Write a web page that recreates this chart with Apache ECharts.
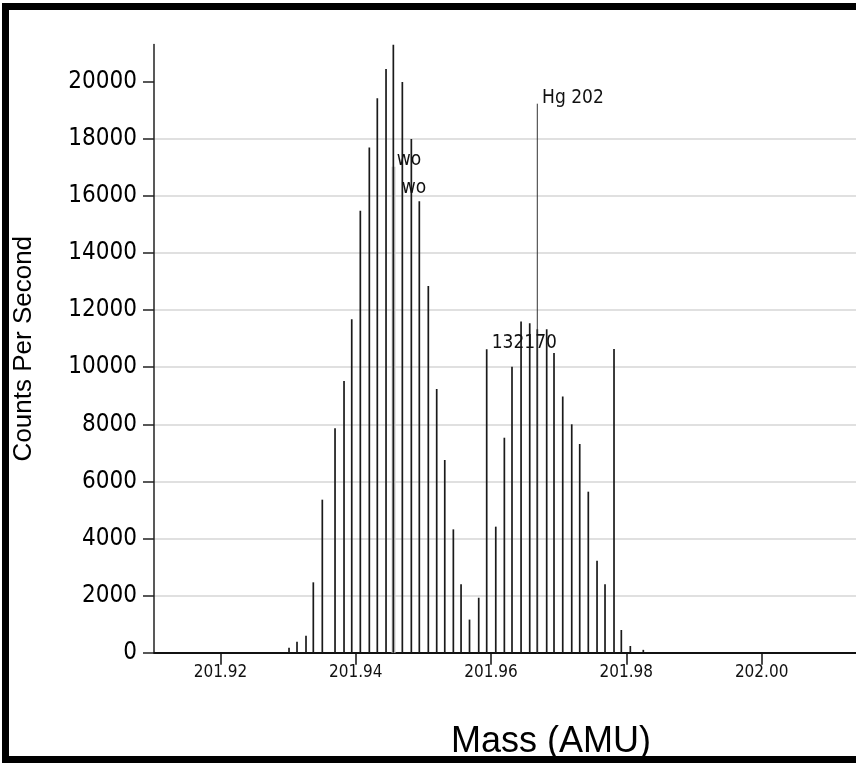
<!DOCTYPE html>
<html>
<head>
<meta charset="utf-8">
<script src="https://cdn.jsdelivr.net/npm/echarts@6/dist/echarts.min.js"></script>
<style>
  html, body { margin: 0; padding: 0; background: #fff; }
  #main { width: 856px; height: 765px; }
</style>
</head>
<body>
<div id="main"></div>
<script>
/* mass spectrum stick plot, 201.91 - 202.03 AMU (right part cut off by the frame) */

const stickMass = [
    201.93014, 201.93132, 201.93265, 201.93373, 201.93506, 201.93694, 201.93827, 201.93941,
    201.94068, 201.94201, 201.94319, 201.94448, 201.94556, 201.94689, 201.94822, 201.94940,
    201.95073, 201.95197, 201.95316, 201.95443, 201.95557, 201.95682, 201.95818, 201.95936,
    201.96070, 201.96197, 201.96310, 201.96444, 201.96572, 201.96684, 201.96823, 201.96931,
    201.97060, 201.97193, 201.97311, 201.97438, 201.97567, 201.97685, 201.97818, 201.97926,
    201.98059, 201.98251
];
const stickCounts = [
    175, 385, 595, 2465, 5360, 7860, 9515, 11680,
    15480, 17700, 19420, 20445, 21295, 19990, 17990, 15810,
    12845, 9235, 6750, 4320, 2395, 1160, 1925, 10625,
    4415, 7530, 10020, 11600, 11540, 11330, 11330, 10500,
    8970, 8000, 7310, 5640, 3225, 2400, 10640, 795,
    235, 100
];

// peak marker lines (grey reference stick, Hg 202 line)
const markerMass = [201.94559, 201.96684];
const markerCounts = [17020, 19230];

// annotations
const noteText = ['wo', 'wo', '132170', 'Hg 202'];
const noteMass = [201.94606, 201.94680, 201.96010, 201.96754];
const noteCounts = [17250, 16260, 10830, 19420];

const xTicks = [201.92, 201.94, 201.96, 201.98, 202.00];
const yTicks = [0, 2000, 4000, 6000, 8000, 10000, 12000, 14000, 16000, 18000, 20000];

const narrow = "'Liberation Sans Narrow', 'DejaVu Sans Condensed', 'Liberation Sans', sans-serif";

const chart = echarts.init(document.getElementById('main'));

function stickItem(color, width) {
    return function (params, api) {
        const top = api.coord([api.value(0), api.value(1)]);
        const base = api.coord([api.value(0), 0]);
        return {
            type: 'line',
            shape: { x1: top[0], y1: top[1], x2: base[0], y2: base[1] },
            style: { stroke: color, lineWidth: width }
        };
    };
}

chart.setOption({
    animation: false,
    backgroundColor: '#fff',
    grid: { left: 154, right: -92, top: 44.6, bottom: 112.3, outerBoundsMode: 'none', containLabel: false },
    graphic: [{
        type: 'rect',
        shape: { x: 5.5, y: 6.5, width: 880, height: 753 },
        style: { fill: null, stroke: '#000', lineWidth: 7 },
        z: 100
    }],
    xAxis: {
        type: 'value',
        min: 201.91018, max: 202.02755,
        name: 'Mass (AMU)',
        nameLocation: 'middle',
        nameGap: 71,
        nameTextStyle: { fontFamily: 'Liberation Sans', fontSize: 36, color: '#000' },
        axisLine: { show: true, onZero: false, lineStyle: { color: '#111', width: 2 } },
        axisTick: { show: true, length: 12, lineStyle: { color: '#111', width: 1.5 }, customValues: xTicks },
        axisLabel: {
            customValues: xTicks,
            formatter: v => v.toFixed(2),
            fontFamily: narrow, fontSize: 17, color: '#111', margin: 11
        },
        splitLine: { show: false }
    },
    yAxis: {
        type: 'value',
        min: 0, max: 21300, interval: 2000,
        name: 'Counts Per Second',
        nameLocation: 'middle',
        nameGap: 117,
        nameTextStyle: { fontFamily: 'Liberation Sans', fontSize: 26, color: '#000' },
        axisLine: { show: true, lineStyle: { color: '#222', width: 1.5 } },
        axisTick: { show: true, length: 11, lineStyle: { color: '#222', width: 1.5 }, customValues: yTicks },
        axisLabel: {
            customValues: yTicks,
            formatter: v => String(v),
            fontFamily: narrow, fontSize: 24, color: '#000', margin: 17
        },
        splitLine: { show: true, showMaxLine: false, lineStyle: { color: '#d6d6d6', width: 1.5 } }
    },
    series: [
        {
            name: 'ref',
            type: 'custom',
            z: 1,
            data: [[markerMass[0], markerCounts[0]]],
            renderItem: stickItem('#cfcfcf', 4)
        },
        {
            name: 'counts',
            type: 'custom',
            z: 2,
            data: stickMass.map((m, i) => [m, stickCounts[i]]),
            renderItem: stickItem('#1a1a1a', 1.7)
        },
        {
            name: 'Hg',
            type: 'custom',
            z: 3,
            data: [[markerMass[1], markerCounts[1]]],
            renderItem: stickItem('#333', 1)
        },
        {
            name: 'notes',
            type: 'custom',
            z: 4,
            data: noteMass.map((m, i) => [m, noteCounts[i], i]),
            renderItem: function (params, api) {
                const p = api.coord([api.value(0), api.value(1)]);
                return {
                    type: 'text',
                    x: p[0], y: p[1],
                    style: {
                        text: noteText[api.value(2)],
                        font: '19px ' + narrow,
                        fill: '#111',
                        textAlign: 'left',
                        textVerticalAlign: 'middle'
                    }
                };
            }
        }
    ]
});
</script>
</body>
</html>
